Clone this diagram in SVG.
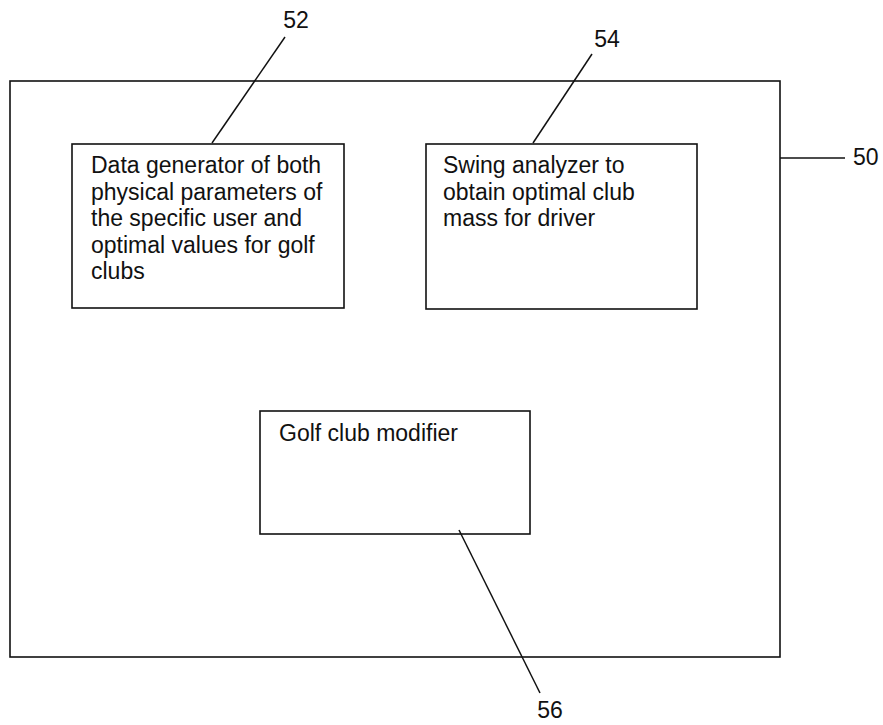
<svg xmlns="http://www.w3.org/2000/svg" width="883" height="725" viewBox="0 0 883 725">
<style>
.box{fill:none;stroke:#111;stroke-width:1.6}
.ld{stroke:#111;stroke-width:1.5;fill:none}
text{font-family:"Liberation Sans",Arial,sans-serif;font-size:23px;fill:#111}
.lbl{text-anchor:middle}
</style>
<rect width="883" height="725" fill="#fff"/>
<g id="n50">
<rect class="box" x="10" y="81" width="770" height="576"/>
<text x="853" y="165">50</text>
</g>
<g id="n52">
<rect class="box" x="72" y="144" width="272" height="164"/>
<text x="91" y="173">Data generator of both</text>
<text x="91" y="199.5">physical parameters of</text>
<text x="91" y="226">the specific user and</text>
<text x="91" y="252.5">optimal values for golf</text>
<text x="91" y="279">clubs</text>
<text class="lbl" x="296" y="28">52</text>
</g>
<g id="n54">
<rect class="box" x="426" y="144" width="271" height="165"/>
<text x="443" y="173">Swing analyzer to</text>
<text x="443" y="199.5">obtain optimal club</text>
<text x="443" y="226">mass for driver</text>
<text class="lbl" x="607" y="47">54</text>
</g>
<g id="n56">
<rect class="box" x="260" y="411" width="270" height="123"/>
<text x="279" y="441">Golf club modifier</text>
<text class="lbl" x="550" y="718">56</text>
</g>
<g id="connectors">
<line class="ld" x1="285" y1="37" x2="212" y2="143"/>
<line class="ld" x1="592" y1="54" x2="533" y2="143"/>
<line class="ld" x1="780" y1="158" x2="845" y2="158"/>
<line class="ld" x1="459" y1="530" x2="540" y2="693"/>
</g>
</svg>
